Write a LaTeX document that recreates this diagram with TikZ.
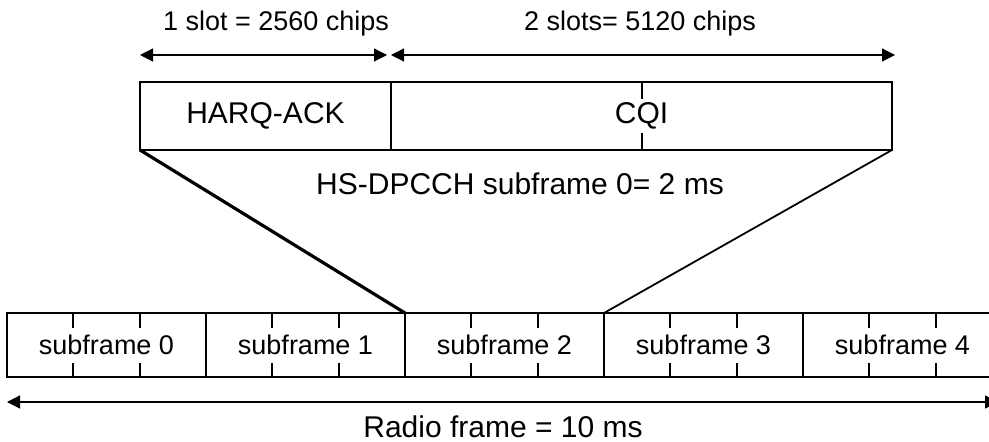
\documentclass[tikz,border=0pt]{standalone}
\usepackage{fontspec}
\setmainfont{Liberation Sans}
\usetikzlibrary{calc,arrows.meta}

\begin{document}
\begin{tikzpicture}[x=0.5pt,y=-0.5pt,line width=1pt,>={Triangle[length=6.5pt,width=6.5pt]},
  txtchico/.style={font=\fontsize{13.5pt}{16pt}\selectfont},
  txtgrande/.style={font=\fontsize{15pt}{18pt}\selectfont},
  caja/.style={draw,anchor=north west,inner sep=0pt,outer sep=0pt,minimum height=34pt,txtgrande},
  trama/.style={draw,anchor=north west,inner sep=0pt,outer sep=0pt,minimum width=99.5pt,minimum height=32pt,txtchico},
  flecha/.style={<->,line width=0.6pt}]
  \useasboundingbox (0,0) rectangle (989,442);
  % subtrama HS-DPCCH
  \node[caja,minimum width=125.5pt] (harq) at (140,82) {HARQ-ACK};
  \node[caja,minimum width=250.5pt] (cqi) at (harq.north east) {CQI};
  \draw (cqi.north) -- ++(0,17);
  \draw (cqi.south) -- ++(0,-17);
  % ranuras
  \coordinate (s1a) at ($(harq.north west)+(0,-27)$);
  \coordinate (s1b) at ($(harq.north east)+(0,-27)$);
  \coordinate (s2b) at ($(cqi.north east)+(3,-27)$);
  \draw[flecha,shorten >=2pt] (s1a) -- (s1b);
  \draw[flecha] (s1b) -- (s2b);
  \node[txtchico] (slot1) at (276,24) {1 slot = 2560 chips};
  \node[txtchico] (slot2) at (640,24) {2 slots= 5120 chips};
  \node[txtgrande] (hsd) at (520,184) {HS-DPCCH subframe 0= 2 ms};
  % trama de radio
  \foreach \i in {0,...,4} {
    \node[trama] (sf\i) at ({7+199*\i},313) {subframe \i};
    \foreach \k in {1,2} {
      \draw ($(sf\i.north west)!\k/3!(sf\i.north east)$) -- ++(0,15);
      \draw ($(sf\i.south west)!\k/3!(sf\i.south east)$) -- ++(0,-14);
    }
  }
  \draw[line width=1.6pt] (harq.south west) -- (sf2.north west);
  \draw[line width=0.9pt] (cqi.south east) -- (sf3.north west);
  \coordinate (rfa) at ($(sf0.south west)+(0,25)$);
  \coordinate (rfb) at ($(sf4.south east)+(-4,25)$);
  \draw[flecha] (rfa) -- (rfb);
  \node[txtgrande] (radio) at (503,427) {Radio frame = 10 ms};
\end{tikzpicture}
\end{document}
